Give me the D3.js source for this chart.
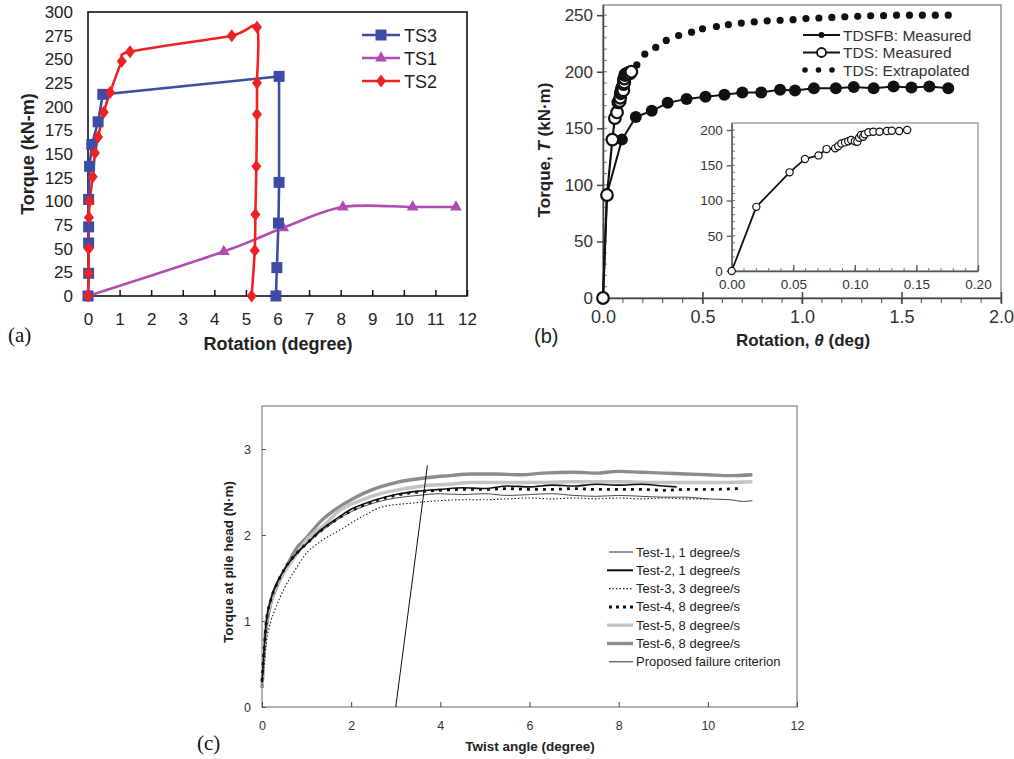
<!DOCTYPE html>
<html><head><meta charset="utf-8">
<script src="https://cdn.jsdelivr.net/npm/d3@7"></script>
<style>body{margin:0;background:#fff}svg{display:block}</style>
</head><body>
<svg id="fig" width="1014" height="759"></svg>
<script>
// ---------- Panel (a) data ----------
const aXTicks = [0,1,2,3,4,5,6,7,8,9,10,11,12];
const aYTicks = [0,25,50,75,100,125,150,175,200,225,250,275,300];
const aSeries = ["TS3","TS1","TS2"];
const ts3X = [0,0.02,0.02,0.02,0.02,0.05,0.12,0.32,0.47,6.05,6.05,6.03,5.98,5.95];
const ts3Y = [0,24,56,73,102,137,160,184,213,232,120,77,30,0];
const ts1X = [0,4.3,6.18,8.07,10.28,11.65];
const ts1Y = [0,47,72,94,94,94];
const ts2X = [0,0.02,0.02,0.03,0.05,0.15,0.22,0.32,0.5,0.7,1.07,1.33,4.55,5.35,5.35,5.35,5.33,5.3,5.28,5.18];
const ts2Y = [0,24,50,83,100,126,151,168,194,215,248,258,275,284,225,192,137,86,48,0];

// ---------- Panel (b) data ----------
const bXTicks = [0,0.5,1.0,1.5,2.0];
const bXLabels = ["0.0","0.5","1.0","1.5","2.0"];
const bYTicks = [0,50,100,150,200,250];
const bSeries = ["TDSFB: Measured","TDS: Measured","TDS: Extrapolated"];
const tdsfbX = [0,0.02,0.095,0.165,0.245,0.325,0.42,0.515,0.61,0.70,0.795,0.89,0.965,1.06,1.17,1.26,1.36,1.46,1.55,1.64,1.735];
const tdsfbY = [0,92,140,160,165.5,172.5,176,178,179.6,181.7,181.7,184,183.5,185.5,185.5,186.5,185.5,187,186,187,185.5];
const tdsX = [0,0.020,0.047,0.0595,0.0705,0.077,0.084,0.0865,0.089,0.092,0.0946,0.097,0.100,0.102,0.1035,0.105,0.1068,0.108,0.111,0.115,0.120,0.126,0.130,0.136,0.1425];
const tdsY = [0,91,140,159,164,173,174,177,181,182.5,184,186,184,183.5,189,193,190.5,194,197,197.6,197.6,198.6,199,198.6,200];
const extX = [0.17,0.21,0.265,0.318,0.38,0.445,0.5,0.57,0.63,0.695,0.76,0.825,0.89,0.955,1.02,1.085,1.15,1.215,1.28,1.345,1.41,1.475,1.54,1.605,1.67,1.735];
const extY = [206,215.6,221.5,227.7,232,235,238,240,241.6,243,244,245,245.5,246,247,247.5,248,248.6,249,249.5,249.6,250,250,250,250,250];
const insetXTicks = [0,0.05,0.10,0.15,0.20];
const insetXLabels = ["0.00","0.05","0.10","0.15","0.20"];
const insetYTicks = [0,50,100,150,200];

// ---------- Panel (c) data ----------
const cXTicks = [0,2,4,6,8,10,12];
const cYTicks = [0,1,2,3];
const cSeries = ["Test-1, 1 degree/s","Test-2, 1 degree/s","Test-3, 3 degree/s","Test-4, 8 degree/s","Test-5, 8 degree/s","Test-6, 8 degree/s","Proposed failure criterion"];
const test1X = [0,0.05,0.1,0.2,0.35,0.5,0.8,1.0,1.3,1.7,2.0,2.5,3.0,3.5,4.0,4.5,5.0,5.5,6.0,6.5,7.0,7.5,8.0,8.5,9.0,9.5,10.0,10.5,10.8,11.0];
const test1Y = [0.3,0.68,0.98,1.24,1.44,1.59,1.79,1.89,2.03,2.18,2.27,2.37,2.43,2.46,2.48,2.47,2.48,2.46,2.47,2.48,2.46,2.45,2.46,2.45,2.44,2.44,2.42,2.41,2.39,2.40];
const test2X = [0,0.05,0.1,0.2,0.35,0.5,0.8,1.0,1.3,1.7,2.0,2.5,3.0,3.5,4.0,4.5,5.0,5.5,6.0,6.5,7.0,7.5,8.0,8.5,9.0,9.3];
const test2Y = [0.28,0.7,1.0,1.26,1.46,1.6,1.8,1.9,2.05,2.2,2.3,2.4,2.47,2.51,2.53,2.55,2.54,2.57,2.56,2.58,2.57,2.59,2.58,2.59,2.57,2.56];
const test3X = [0,0.05,0.1,0.2,0.29,0.5,0.75,1.0,1.3,1.75,2.2,2.72,3.35,4.0,4.5,5.0,5.5,6.0,6.5,7.0,7.5,8.0,8.5,9.0,9.5,10.0];
const test3Y = [0.25,0.5,0.75,1.0,1.13,1.38,1.6,1.79,1.92,2.06,2.2,2.33,2.37,2.40,2.41,2.41,2.42,2.43,2.42,2.43,2.42,2.43,2.42,2.43,2.42,2.42];
const test4X = [0,0.05,0.1,0.2,0.35,0.5,0.8,1.0,1.3,1.7,2.0,2.5,3.0,3.5,4.0,4.5,5.0,5.5,6.0,6.5,7.0,7.5,8.0,8.5,9.0,9.5,10.0,10.7];
const test4Y = [0.3,0.7,1.0,1.25,1.45,1.6,1.8,1.9,2.04,2.19,2.28,2.39,2.46,2.5,2.52,2.53,2.53,2.54,2.53,2.53,2.54,2.53,2.53,2.53,2.52,2.53,2.53,2.54];
const test5X = [0,0.03,0.08,0.18,0.33,0.5,0.78,1.0,1.4,1.75,2.2,2.65,3.1,3.6,4.2,4.7,5.5,6.0,7.0,8.0,9.0,10.0,11.0];
const test5Y = [0.25,0.55,0.92,1.2,1.42,1.57,1.78,1.94,2.12,2.29,2.4,2.48,2.53,2.57,2.59,2.61,2.61,2.61,2.62,2.62,2.61,2.61,2.62];
const test6X = [0,0.03,0.08,0.18,0.33,0.5,0.78,1.0,1.3,1.6,2.0,2.3,2.65,3.0,3.6,4.2,4.7,5.2,5.8,6.3,7.0,7.5,8.0,8.5,9.0,9.5,10.0,10.5,11.0];
const test6Y = [0.22,0.5,0.85,1.17,1.4,1.58,1.85,1.97,2.15,2.28,2.41,2.49,2.56,2.61,2.66,2.69,2.71,2.71,2.70,2.72,2.73,2.72,2.74,2.73,2.72,2.71,2.70,2.69,2.70];
const critX = [3.0,3.71];
const critY = [0,2.81];

const svg = d3.select("#fig");
svg.append("rect").attr("width",1014).attr("height",759).attr("fill","#fff");
const SANS = "Liberation Sans, Arial, sans-serif";
const SERIF = "Liberation Serif, Times New Roman, serif";

function pathFrom(xs, ys, sx, sy, curve){
  return d3.line().curve(curve||d3.curveLinear).x(i=>sx(xs[i])).y(i=>sy(ys[i]))(d3.range(xs.length));
}

// ================= Panel (a) =================
(function(){
  const g = svg.append("g");
  const x = d3.scaleLinear().domain([0,12]).range([88,467]);
  const y = d3.scaleLinear().domain([0,300]).range([296,12]);
  const blue="#3f4ca6", mag="#b04db3", red="#ee2222";
  const xAx = g.append("g").attr("transform","translate(0,296)")
    .call(d3.axisBottom(x).tickValues(aXTicks).tickSizeInner(-6).tickSizeOuter(0).tickPadding(17));
  xAx.select(".domain").remove();
  xAx.selectAll("line").attr("stroke","#111").attr("stroke-width",1.5);
  xAx.selectAll("text").attr("font-family",SANS).attr("font-size",17).attr("fill","#222");
  const yAx = g.append("g").attr("transform","translate(88,0)")
    .call(d3.axisLeft(y).tickValues(aYTicks).tickSize(0).tickPadding(15));
  yAx.select(".domain").remove();
  yAx.selectAll("text").attr("font-family",SANS).attr("font-size",17).attr("fill","#222");
  g.append("rect").attr("x",88).attr("y",12).attr("width",379).attr("height",284)
    .attr("fill","none").attr("stroke","#111").attr("stroke-width",1.6);

  // lines
  g.append("path").attr("d",pathFrom(ts1X,ts1Y,x,y,d3.curveCardinal.tension(0)))
    .attr("fill","none").attr("stroke",mag).attr("stroke-width",2.6);
  g.append("path").attr("d",pathFrom(ts3X,ts3Y,x,y))
    .attr("fill","none").attr("stroke",blue).attr("stroke-width",2.6);
  g.append("path").attr("d",pathFrom(ts2X,ts2Y,x,y,d3.curveCardinal.tension(0.2)))
    .attr("fill","none").attr("stroke",red).attr("stroke-width",2.6);
  const tri = d3.symbol(d3.symbolTriangle, 60)();
  const dia = "M0,-6.5L5,0L0,6.5L-5,0Z";
  g.selectAll(".m1").data(d3.range(ts1X.length)).join("path")
    .attr("d",tri).attr("fill",mag).attr("transform",i=>`translate(${x(ts1X[i])},${y(ts1Y[i])})`);
  g.selectAll(".m3").data(d3.range(ts3X.length)).join("rect")
    .attr("x",i=>x(ts3X[i])-5.5).attr("y",i=>y(ts3Y[i])-5.5).attr("width",11).attr("height",11).attr("fill",blue);
  g.selectAll(".m2").data(d3.range(ts2X.length)).join("path")
    .attr("d",dia).attr("fill",red).attr("transform",i=>`translate(${x(ts2X[i])},${y(ts2Y[i])})`);

  // legend
  const cols=[blue,mag,red];
  aSeries.forEach((s,k)=>{
    const ly = 35 + k*23;
    g.append("line").attr("x1",362).attr("x2",400).attr("y1",ly).attr("y2",ly).attr("stroke",cols[k]).attr("stroke-width",2.6);
    if(k===0) g.append("rect").attr("x",375.5).attr("y",ly-5.5).attr("width",11).attr("height",11).attr("fill",blue);
    if(k===1) g.append("path").attr("d",tri).attr("fill",mag).attr("transform",`translate(381,${ly})`);
    if(k===2) g.append("path").attr("d",dia).attr("fill",red).attr("transform",`translate(381,${ly})`);
    g.append("text").attr("x",404).attr("y",ly+6.5).attr("font-family",SANS).attr("font-size",18).attr("fill","#222").text(s);
  });

  g.append("text").attr("transform","translate(34,154) rotate(-90)").attr("text-anchor","middle")
    .attr("font-family",SANS).attr("font-size",18).attr("font-weight","bold").attr("fill","#222").text("Torque (kN-m)");
  g.append("text").attr("x",278).attr("y",350).attr("text-anchor","middle")
    .attr("font-family",SANS).attr("font-size",18).attr("font-weight","bold").attr("fill","#222").text("Rotation (degree)");
  g.append("text").attr("x",8).attr("y",342).attr("font-family",SERIF).attr("font-size",21).attr("fill","#111").text("(a)");
})();

// ================= Panel (b) =================
(function(){
  const g = svg.append("g");
  const x = d3.scaleLinear().domain([0,2]).range([603,1001]);
  const y = d3.scaleLinear().domain([0,259]).range([298,5]);
  g.append("rect").attr("x",603).attr("y",5).attr("width",398).attr("height",293)
    .attr("fill","none").attr("stroke","#8a8a8a").attr("stroke-width",1.4);
  const xMinor = d3.range(0,2.0001,0.1);
  g.selectAll(".xm").data(xMinor).join("line").attr("x1",d=>x(d)).attr("x2",d=>x(d)).attr("y1",298).attr("y2",303)
    .attr("stroke","#666").attr("stroke-width",1.2);
  const yMinor = d3.range(0,251,10);
  g.selectAll(".ym").data(yMinor).join("line").attr("x1",603).attr("x2",607).attr("y1",d=>y(d)).attr("y2",d=>y(d))
    .attr("stroke","#777").attr("stroke-width",1);
  const xAx = g.append("g").attr("transform","translate(0,298)")
    .call(d3.axisBottom(x).tickValues(bXTicks).tickFormat((d,i)=>bXLabels[i]).tickSizeInner(6).tickSizeOuter(0).tickPadding(6));
  xAx.select(".domain").attr("stroke","#444").attr("stroke-width",1.5);
  xAx.selectAll(".tick line").attr("y1",-6).attr("stroke","#444").attr("stroke-width",1.5);
  xAx.selectAll("text").attr("font-family",SANS).attr("font-size",18).attr("fill","#333");
  const yAx = g.append("g").attr("transform","translate(603,0)")
    .call(d3.axisLeft(y).tickValues(bYTicks).tickSizeInner(6).tickSizeOuter(0).tickPadding(4));
  yAx.select(".domain").attr("stroke","#444").attr("stroke-width",1.5);
  yAx.selectAll(".tick line").attr("stroke","#444").attr("stroke-width",1.5);
  yAx.selectAll("text").attr("font-family",SANS).attr("font-size",17).attr("fill","#333");

  g.selectAll(".ex").data(d3.range(extX.length)).join("circle")
    .attr("cx",i=>x(extX[i])).attr("cy",i=>y(extY[i])).attr("r",3.6).attr("fill","#111");
  g.append("path").attr("d",pathFrom(tdsfbX,tdsfbY,x,y)).attr("fill","none").attr("stroke","#111").attr("stroke-width",2);
  g.selectAll(".fb").data(d3.range(tdsfbX.length)).join("circle")
    .attr("cx",i=>x(tdsfbX[i])).attr("cy",i=>y(tdsfbY[i])).attr("r",6).attr("fill","#111");
  g.append("path").attr("d",pathFrom(tdsX,tdsY,x,y)).attr("fill","none").attr("stroke","#111").attr("stroke-width",2.2);
  g.selectAll(".td").data(d3.range(tdsX.length)).join("circle")
    .attr("cx",i=>x(tdsX[i])).attr("cy",i=>y(tdsY[i])).attr("r",5.8).attr("fill","#fff").attr("stroke","#111").attr("stroke-width",2.2);

  bSeries.forEach((s,k)=>{
    const ly = 35 + k*17.5;
    if(k<2) g.append("line").attr("x1",803).attr("x2",840).attr("y1",ly).attr("y2",ly).attr("stroke","#111").attr("stroke-width",2);
    if(k===0) g.append("circle").attr("cx",821.5).attr("cy",ly).attr("r",3).attr("fill","#111");
    if(k===1) g.append("circle").attr("cx",821.5).attr("cy",ly).attr("r",4.5).attr("fill","#fff").attr("stroke","#111").attr("stroke-width",1.8);
    if(k===2) [805,818.5,832].forEach(cx=>g.append("circle").attr("cx",cx).attr("cy",ly).attr("r",2.8).attr("fill","#111"));
    g.append("text").attr("x",843).attr("y",ly+5.5).attr("font-family",SANS).attr("font-size",15.5).attr("fill","#333").text(s);
  });

  // inset
  const ix = d3.scaleLinear().domain([0,0.2]).range([731.7,978]);
  const iy = d3.scaleLinear().domain([0,210]).range([271,123]);
  g.append("rect").attr("x",731.7).attr("y",123).attr("width",246.3).attr("height",148)
    .attr("fill","#fff").attr("stroke","#8a8a8a").attr("stroke-width",1.2);
  const ixMinor = d3.range(0,0.2001,0.01);
  g.selectAll(".ixm").data(ixMinor).join("line").attr("x1",d=>ix(d)).attr("x2",d=>ix(d)).attr("y1",271).attr("y2",268)
    .attr("stroke","#777").attr("stroke-width",1);
  const iyMinor = d3.range(0,201,10);
  g.selectAll(".iym").data(iyMinor).join("line").attr("x1",731.7).attr("x2",735).attr("y1",d=>iy(d)).attr("y2",d=>iy(d))
    .attr("stroke","#777").attr("stroke-width",1);
  const ixAx = g.append("g").attr("transform","translate(0,271)")
    .call(d3.axisBottom(ix).tickValues(insetXTicks).tickFormat((d,i)=>insetXLabels[i]).tickSizeInner(-6).tickSizeOuter(0).tickPadding(8));
  ixAx.select(".domain").attr("stroke","#555").attr("stroke-width",1.3);
  ixAx.selectAll(".tick line").attr("stroke","#555").attr("stroke-width",1.3);
  ixAx.selectAll("text").attr("font-family",SANS).attr("font-size",13.5).attr("fill","#333");
  const iyAx = g.append("g").attr("transform","translate(731.7,0)")
    .call(d3.axisLeft(iy).tickValues(insetYTicks).tickSizeInner(5).tickSizeOuter(0).tickPadding(4));
  iyAx.select(".domain").attr("stroke","#555").attr("stroke-width",1.3);
  iyAx.selectAll(".tick line").attr("stroke","#555").attr("stroke-width",1.3);
  iyAx.selectAll("text").attr("font-family",SANS).attr("font-size",13.5).attr("fill","#333");
  g.append("path").attr("d",pathFrom(tdsX,tdsY,ix,iy)).attr("fill","none").attr("stroke","#111").attr("stroke-width",1.8);
  g.selectAll(".it").data(d3.range(tdsX.length)).join("circle")
    .attr("cx",i=>ix(tdsX[i])).attr("cy",i=>iy(tdsY[i])).attr("r",3.6).attr("fill","#fff").attr("stroke","#111").attr("stroke-width",1.2);

  const yt = g.append("text").attr("transform","translate(550,150) rotate(-90)").attr("text-anchor","middle")
    .attr("font-family",SANS).attr("font-size",17).attr("font-weight","bold").attr("fill","#222");
  yt.append("tspan").text("Torque, ");
  yt.append("tspan").attr("font-style","italic").text("T");
  yt.append("tspan").text(" (kN\u00B7m)");
  const xt = g.append("text").attr("x",803).attr("y",346).attr("text-anchor","middle")
    .attr("font-family",SANS).attr("font-size",17).attr("font-weight","bold").attr("fill","#222");
  xt.append("tspan").text("Rotation, ");
  xt.append("tspan").attr("font-style","italic").text("\u03B8");
  xt.append("tspan").text(" (deg)");
  g.append("text").attr("x",534).attr("y",343).attr("font-family",SANS).attr("font-size",20).attr("fill","#222").text("(b)");
})();

// ================= Panel (c) =================
(function(){
  const g = svg.append("g");
  const x = d3.scaleLinear().domain([0,12]).range([262,797]);
  const y = d3.scaleLinear().domain([0,3.5]).range([707,406]);
  g.append("rect").attr("x",262).attr("y",406).attr("width",535).attr("height",301)
    .attr("fill","none").attr("stroke","#9a9a9a").attr("stroke-width",1.5);
  const xAx = g.append("g").attr("transform","translate(0,707)")
    .call(d3.axisBottom(x).tickValues(cXTicks).tickSizeInner(-5).tickSizeOuter(0).tickPadding(14));
  xAx.select(".domain").remove();
  xAx.selectAll(".tick line").attr("stroke","#444").attr("stroke-width",1);
  xAx.selectAll("text").attr("font-family",SANS).attr("font-size",12.5).attr("fill","#333");
  const yAx = g.append("g").attr("transform","translate(262,0)")
    .call(d3.axisLeft(y).tickValues(cYTicks).tickFormat(d3.format("d")).tickSizeInner(-4).tickSizeOuter(0).tickPadding(11));
  yAx.select(".domain").remove();
  yAx.selectAll(".tick line").attr("stroke","#555").attr("stroke-width",1);
  yAx.selectAll("text").attr("font-family",SANS).attr("font-size",12.5).attr("fill","#333");

  const sm = d3.curveMonotoneX;
  const styles = [
    {X:test6X,Y:test6Y,stroke:"#8c8c8c",w:3.4,dash:null},
    {X:test5X,Y:test5Y,stroke:"#c4c4c4",w:3.4,dash:null},
    {X:test3X,Y:test3Y,stroke:"#222",w:1.1,dash:"1.5,2"},
    {X:test1X,Y:test1Y,stroke:"#333",w:0.9,dash:null},
    {X:test2X,Y:test2Y,stroke:"#111",w:1.6,dash:null},
    {X:test4X,Y:test4Y,stroke:"#111",w:2.8,dash:"3,5"}
  ];
  styles.forEach(s=>{
    g.append("path").attr("d",pathFrom(s.X,s.Y,x,y,sm)).attr("fill","none")
      .attr("stroke",s.stroke).attr("stroke-width",s.w).attr("stroke-dasharray",s.dash);
  });
  g.append("path").attr("d",pathFrom(critX,critY,x,y)).attr("fill","none").attr("stroke","#111").attr("stroke-width",1);

  const legSt = [
    {stroke:"#333",w:1,dash:null,x1:609},
    {stroke:"#111",w:2,dash:null,x1:607},
    {stroke:"#222",w:1.3,dash:"1.5,2",x1:609},
    {stroke:"#111",w:3,dash:"3,4",x1:609},
    {stroke:"#c4c4c4",w:3.4,dash:null,x1:607},
    {stroke:"#8c8c8c",w:3.4,dash:null,x1:607},
    {stroke:"#333",w:1,dash:null,x1:609}
  ];
  cSeries.forEach((s,k)=>{
    const ly = 552 + k*18.3;
    const st = legSt[k];
    g.append("line").attr("x1",st.x1).attr("x2",633).attr("y1",ly).attr("y2",ly)
      .attr("stroke",st.stroke).attr("stroke-width",st.w).attr("stroke-dasharray",st.dash);
    g.append("text").attr("x",636).attr("y",ly+4.5).attr("font-family",SANS).attr("font-size",13).attr("fill","#222").text(s);
  });

  g.append("text").attr("transform","translate(233,562) rotate(-90)").attr("text-anchor","middle")
    .attr("font-family",SANS).attr("font-size",13.5).attr("font-weight","bold").attr("fill","#222").text("Torque at pile head (N\u00B7m)");
  g.append("text").attr("x",530).attr("y",751).attr("text-anchor","middle")
    .attr("font-family",SANS).attr("font-size",13.5).attr("font-weight","bold").attr("fill","#222").text("Twist angle (degree)");
  g.append("text").attr("x",197).attr("y",750).attr("font-family",SERIF).attr("font-size",21).attr("fill","#111").text("(c)");
})();
</script>
</body></html>
